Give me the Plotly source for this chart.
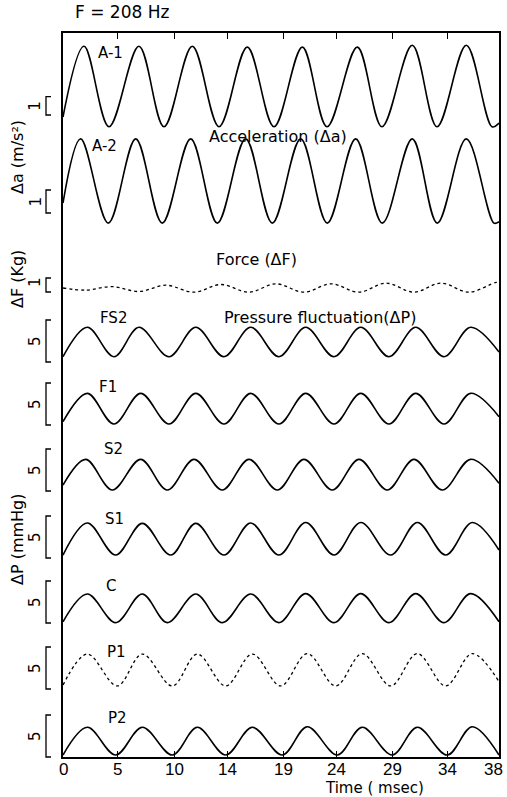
import plotly.graph_objects as go

# ---------------- data (time in ms, values in physical units) ----------------
time_tickvals = [0, 4.79, 9.68, 14.3, 19.26, 23.8, 28.76, 33.47, 38]
time_ticktext = ["0", "5", "10", "14", "19", "24", "29", "34", "38"]

# Acceleration A-1 (m/s^2)
a1_t = [0, 1.83, 4.01, 6.62, 8.80, 11.27, 13.60, 16.06, 18.39, 20.86, 23.01,
        25.65, 27.80, 30.44, 32.60, 35.15, 37.39, 38]
a1_v = [-1.67, 2.2, -2.2, 2.2, -2.2, 2.2, -2.2, 2.15, -2.2, 2.15, -2.2,
        2.15, -2.2, 2.25, -2.2, 2.25, -2.2, -2.0]

# Acceleration A-2 (m/s^2)
a2_t = [0, 1.54, 3.95, 6.34, 8.65, 11.13, 13.45, 15.92, 18.24, 20.72, 23.03,
        25.51, 27.83, 30.44, 32.62, 35.15, 37.56, 38]
a2_v = [-0.96, 1.83, -1.83, 1.83, -1.83, 1.83, -1.83, 1.83, -1.83, 1.83, -1.83,
        1.83, -1.83, 1.83, -1.83, 1.83, -1.83, -1.77]

# Force (kg)
f_t = [0, 2.0, 4.27, 6.62, 8.98, 11.42, 13.77, 16.21, 18.56, 21.00, 23.36,
       25.80, 28.15, 30.59, 32.94, 35.38, 37.74, 38]
f_v = [0.0, -0.15, 0.1, -0.25, 0.2, -0.3, 0.25, -0.3, 0.3, -0.3, 0.3,
       -0.3, 0.35, -0.3, 0.35, -0.3, 0.4, 0.38]

# Pressure fluctuation (mmHg)
fs2_t = [0, 2.12, 4.44, 6.62, 9.24, 11.57, 14.03, 16.36, 18.82, 21.15, 23.62,
         25.95, 28.41, 30.74, 33.21, 35.53, 38]
fs2_v = [-1.75, 1.75, -1.75, 1.75, -1.75, 1.75, -1.75, 1.75, -1.75, 1.75, -1.75,
         1.75, -1.75, 1.75, -1.75, 1.75, -1.2]

f1_t = [0, 2.12, 4.44, 6.77, 9.24, 11.57, 14.03, 16.36, 18.82, 21.15, 23.62,
        25.95, 28.41, 30.74, 33.21, 35.53, 38]
f1_v = [-1.55, 1.83, -1.82, 1.83, -1.82, 1.83, -1.82, 1.83, -1.82, 1.83, -1.82,
        1.83, -1.82, 1.83, -1.82, 1.83, -0.95]

s2_t = [0, 1.98, 4.30, 6.77, 9.09, 11.42, 13.88, 16.21, 18.68, 21.00, 23.47,
        25.80, 28.26, 30.59, 33.06, 35.53, 38]
s2_v = [-1.23, 1.83, -1.82, 1.83, -1.82, 1.83, -1.82, 1.83, -1.82, 1.83, -1.82,
        1.83, -1.82, 1.83, -1.82, 1.83, -1.02]

s1_t = [0, 2.12, 4.59, 6.91, 9.39, 11.57, 14.03, 16.36, 18.82, 21.15, 23.62,
        25.95, 28.56, 30.88, 33.35, 35.67, 38]
s1_v = [-1.92, 1.9, -1.92, 1.85, -1.92, 1.85, -1.92, 1.9, -1.92, 1.95, -1.92,
        1.95, -1.92, 1.95, -1.92, 1.95, -1.32]

c_t = [0, 2.12, 4.59, 6.91, 9.09, 11.57, 13.88, 16.36, 18.82, 21.15, 23.62,
       25.95, 28.41, 30.74, 33.21, 35.53, 38]
c_v = [-1.6, 1.7, -1.71, 1.7, -1.71, 1.7, -1.71, 1.7, -1.71, 1.75, -1.71,
       1.75, -1.71, 1.75, -1.71, 1.75, -1.6]

p1_t = [0, 2.12, 4.73, 6.91, 9.53, 11.70, 14.18, 16.50, 18.97, 21.29, 23.77,
        26.08, 28.56, 30.88, 33.35, 35.67, 38]
p1_v = [-1.79, 1.9, -1.9, 1.9, -1.9, 1.9, -1.9, 1.9, -1.9, 1.95, -1.9,
        1.95, -1.9, 1.95, -1.9, 1.95, -1.39]

p2_t = [0, 2.12, 4.59, 6.91, 9.53, 11.70, 14.18, 16.50, 19.11, 21.29, 23.91,
        26.08, 28.70, 30.88, 33.49, 35.67, 38]
p2_v = [-1.67, 1.63, -1.67, 1.63, -1.67, 1.63, -1.67, 1.63, -1.67, 1.7, -1.67,
        1.63, -1.67, 1.63, -1.67, 1.7, -1.67]

# ---------------- layout geometry ----------------
W, H = 507, 797
ML, MR, MT, MB = 63, 8, 33, 40
PW = W - ML - MR
PH = H - MT - MB


def px_x(px):
    return (px - ML) / PW


def px_y(py):
    return (H - MB - py) / PH


# name, t, v, centre (px), px per unit, dash, label pos, bar bottom(px), bar units
traces = [
    ("A-1", a1_t, a1_v, 86.5, 18.3, "solid", (110, 53), 115, 1),
    ("A-2", a2_t, a2_v, 181, 23.0, "solid", (104, 146), 213, 1),
    ("Force", f_t, f_v, 288, 14.0, "dot", None, 292, 1),
    ("FS2", fs2_t, fs2_v, 342, 8.4, "solid", (113, 318), 362, 5),
    ("F1", f1_t, f1_v, 408.7, 8.4, "solid", (108, 387), 425, 5),
    ("S2", s2_t, s2_v, 474.7, 8.4, "solid", (113, 449), 491, 5),
    ("S1", s1_t, s1_v, 538.9, 8.4, "solid", (114, 519), 558, 5),
    ("C", c_t, c_v, 608.3, 8.4, "solid", (111, 586), 623, 5),
    ("P1", p1_t, p1_v, 670, 8.4, "dot", (116, 652), 689, 5),
    ("P2", p2_t, p2_v, 741, 8.4, "solid", (117, 718), 757, 5),
]

FONT = "DejaVu Sans, Liberation Sans, sans-serif"
TICKFONT = "Liberation Sans Narrow, Liberation Sans, DejaVu Sans, sans-serif"

fig = go.Figure()
shapes = []
annotations = []

for name, t, v, centre, scale, dash, lab, bar_bottom, units in traces:
    y = [centre - val * scale for val in v]
    fig.add_trace(go.Scatter(
        x=t, y=y, mode="lines", name=name, showlegend=False, hoverinfo="skip",
        line=dict(color="black", width=1.6 if dash == "solid" else 1.3,
                  shape="spline", smoothing=1, dash=dash)))
    if lab is not None:
        annotations.append(dict(
            x=px_x(lab[0]), y=px_y(lab[1]), xref="paper", yref="paper",
            text=name, showarrow=False, xanchor="center", yanchor="middle",
            font=dict(family=FONT, size=15, color="black")))
    # scale bar "["
    top = bar_bottom - units * scale
    x1, x2 = px_x(46), px_x(51)
    yb, yt = px_y(bar_bottom), px_y(top)
    shapes.append(dict(
        type="path", xref="paper", yref="paper",
        path=f"M {x2} {yt} L {x1} {yt} L {x1} {yb} L {x2} {yb}",
        line=dict(color="black", width=1.3)))
    annotations.append(dict(
        x=px_x(35), y=px_y((bar_bottom + top) / 2 - (3 if name == "Force" else 0)),
        xref="paper", yref="paper", text=str(units), showarrow=False,
        textangle=-90, xanchor="center", yanchor="middle",
        font=dict(family=FONT, size=15, color="black")))

# time tick labels (drawn as annotations at the axis tick values)
n_ticks = len(time_tickvals)
for i, (tv, tt) in enumerate(zip(time_tickvals, time_ticktext)):
    last = i == n_ticks - 1
    annotations.append(dict(
        x=tv, xref="x", y=px_y(769), yref="paper", text=tt, showarrow=False,
        xanchor="right" if last else "center", xshift=6 if last else 0,
        yanchor="middle",
        font=dict(family=TICKFONT, size=17, color="black")))

# group texts
texts = [
    ("F = 208 Hz", 122, 12, 17, 0),
    ("Acceleration (Δa)", 278, 137, 16, 0),
    ("Force (ΔF)", 256, 259, 16, 0),
    ("Pressure fluctuation(ΔP)", 320, 317, 16, 0),
    ("Δa (m/s²)", 17, 157, 16, -90),
    ("ΔF (Kg)", 17, 279, 16, -90),
    ("ΔP (mmHg)", 17, 539, 16, -90),
    ("Time ( msec)", 374, 788, 15, 0),
]
for txt, x, y, size, ang in texts:
    annotations.append(dict(
        x=px_x(x), y=px_y(y), xref="paper", yref="paper", text=txt,
        showarrow=False, textangle=ang, xanchor="center", yanchor="middle",
        font=dict(family=FONT, size=size, color="black")))

fig.update_layout(
    width=W, height=H,
    margin=dict(l=ML, r=MR, t=MT, b=MB, pad=0),
    paper_bgcolor="white", plot_bgcolor="white",
    shapes=shapes, annotations=annotations, showlegend=False,
    xaxis=dict(range=[0, 38], showgrid=False, zeroline=False, automargin=False,
               showline=True, linecolor="black", linewidth=1.6, mirror="ticks",
               ticks="inside", ticklen=6, tickwidth=1.3, tickcolor="black",
               tickvals=time_tickvals, showticklabels=False),
    yaxis=dict(range=[757, 33], showgrid=False, zeroline=False, automargin=False,
               showline=True, linecolor="black", linewidth=1.6, mirror=True,
               ticks="", showticklabels=False),
)

fig.write_html("out.html")
